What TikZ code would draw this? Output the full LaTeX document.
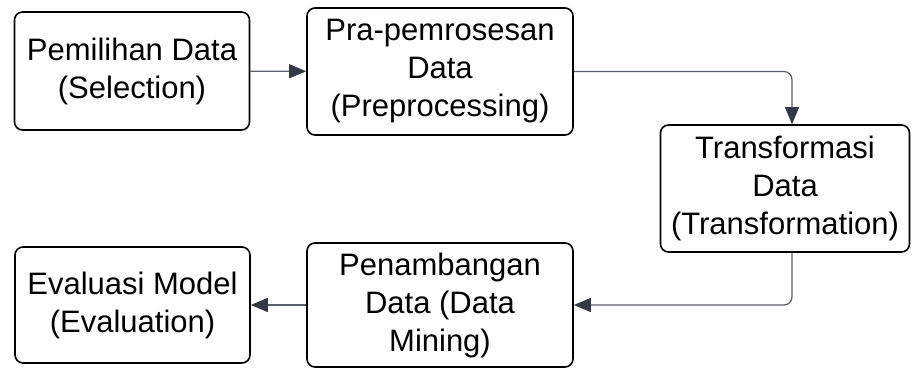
\documentclass[tikz,border=0pt]{standalone}
\usepackage{fontspec}
\setmainfont{Liberation Sans}
\usetikzlibrary{arrows.meta}
\definecolor{linegray}{HTML}{5A5E66}
\definecolor{tipgray}{HTML}{343A45}
\begin{document}
\begin{tikzpicture}[x = 1pt, y = -1pt,
  stage/.style = {draw, line width = 1.6pt, rounded corners = 8pt, align = center, inner sep = 0pt,
    font = \fontsize{31}{38}\selectfont},
  flow/.style = {draw = linegray, line width = 1.2pt, rounded corners = 8pt,
    -{Triangle[length = 17pt, width = 14pt, color = tipgray]}}]
\useasboundingbox (0,0) rectangle (916,369);
\node[stage, minimum width = 235pt, minimum height = 118pt] at (132,71) (sel) {Pemilihan Data\\(Selection)};
\node[stage, minimum width = 266pt, minimum height = 127pt] at (440,71.5) (pre) {Pra-pemrosesan\\Data\\(Preprocessing)};
\node[stage, minimum width = 249pt, minimum height = 127pt] at (785,188.5) (trans) {Transformasi\\Data\\(Transformation)};
\node[stage, minimum width = 266pt, minimum height = 124pt] at (440,305) (mine) {Penambangan\\Data (Data\\Mining)};
\node[stage, minimum width = 235pt, minimum height = 116pt] at (132.5,305) (eval) {Evaluasi Model\\(Evaluation)};
\draw[flow] (sel) -- (pre);
\draw[flow] (pre.east) -| ([xshift = 7pt]trans.north);
\draw[flow] ([xshift = 7pt]trans.south) |- (mine.east);
\draw[flow] (mine) -- (eval);
\end{tikzpicture}
\end{document}
